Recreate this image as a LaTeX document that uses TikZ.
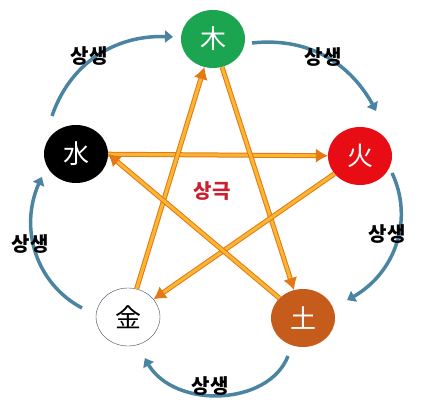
\documentclass[tikz,border=0pt]{standalone}
\usepackage{fontspec}
\newfontfamily\kr{Noto Sans CJK KR}
\usetikzlibrary{arrows.meta,shapes.geometric,bending}
\definecolor{mokgreen}{RGB}{28,165,80}
\definecolor{hwared}{RGB}{232,12,20}
\definecolor{toorange}{RGB}{198,92,28}
\definecolor{geumline}{RGB}{60,70,90}
\definecolor{saengblue}{RGB}{74,132,162}
\definecolor{geukline}{RGB}{228,120,20}
\definecolor{geukfill}{RGB}{250,182,50}
\definecolor{geukred}{RGB}{205,30,45}
\begin{document}
\begin{tikzpicture}[x=1pt, y=1pt,
    elem/.style={ellipse, minimum width=64pt, minimum height=58pt, inner sep=0pt,
        font=\kr\fontsize{26}{26}\selectfont},
    saeng/.style={saengblue, line width=3.5pt, -{Triangle[length=8pt,width=12pt,bend]}, bend left=#1},
    saeng/.default=45,
    geuk/.style={draw=geukline, double=geukfill, double distance=3pt, line width=1pt,
        -{Latex[length=12pt,width=14pt]}},
    lbl/.style={font=\kr\bfseries\fontsize{20}{20}\selectfont}]
    \useasboundingbox (0,0) rectangle (427,-419);

    % Elements
    \node[elem, fill=mokgreen, text=white] (mok) at (213,-39) {木};
    \node[elem, fill=black, text=white] (su) at (76,-154) {水};
    \node[elem, fill=hwared, text=white] (hwa) at (360,-156) {火};
    \node[elem, fill=white, draw=geumline, thin] (geum) at (128,-317) {金};
    \node[elem, fill=toorange, text=white] (to) at (303,-318) {土};

    % Sanggeuk (star)
    \draw[geuk] (su) -- (hwa);
    \draw[geuk] (mok) -- (to);
    \draw[geuk] (geum) -- (mok);
    \draw[geuk] (hwa) -- (geum);
    \draw[geuk] (to) -- (su.east);
    \node[lbl, text=geukred] (geuk) at (212,-191) {상극};

    % Sangsaeng (circle)
    \coordinate (a1) at (252,-43);  \coordinate (a2) at (376,-111);
    \coordinate (b1) at (392,-173); \coordinate (b2) at (347,-300);
    \coordinate (c1) at (288,-356); \coordinate (c2) at (145,-358);
    \coordinate (d1) at (82,-308);  \coordinate (d2) at (42,-177);
    \coordinate (e1) at (52,-116);  \coordinate (e2) at (173,-37);
    \draw[saeng=35] (a1) to (a2);
    \draw[saeng] (b1) to (b2);
    \draw[saeng=68] (c1) to (c2);
    \draw[saeng] (d1) to (d2);
    \draw[saeng=38] (e1) to (e2);

    % Labels
    \node[lbl] (s1) at (323,-57) {상생};
    \node[lbl] (s2) at (387,-234) {상생};
    \node[lbl] (s3) at (210,-386) {상생};
    \node[lbl] (s4) at (30,-244) {상생};
    \node[lbl] (s5) at (89,-56) {상생};

\end{tikzpicture}
\end{document}
